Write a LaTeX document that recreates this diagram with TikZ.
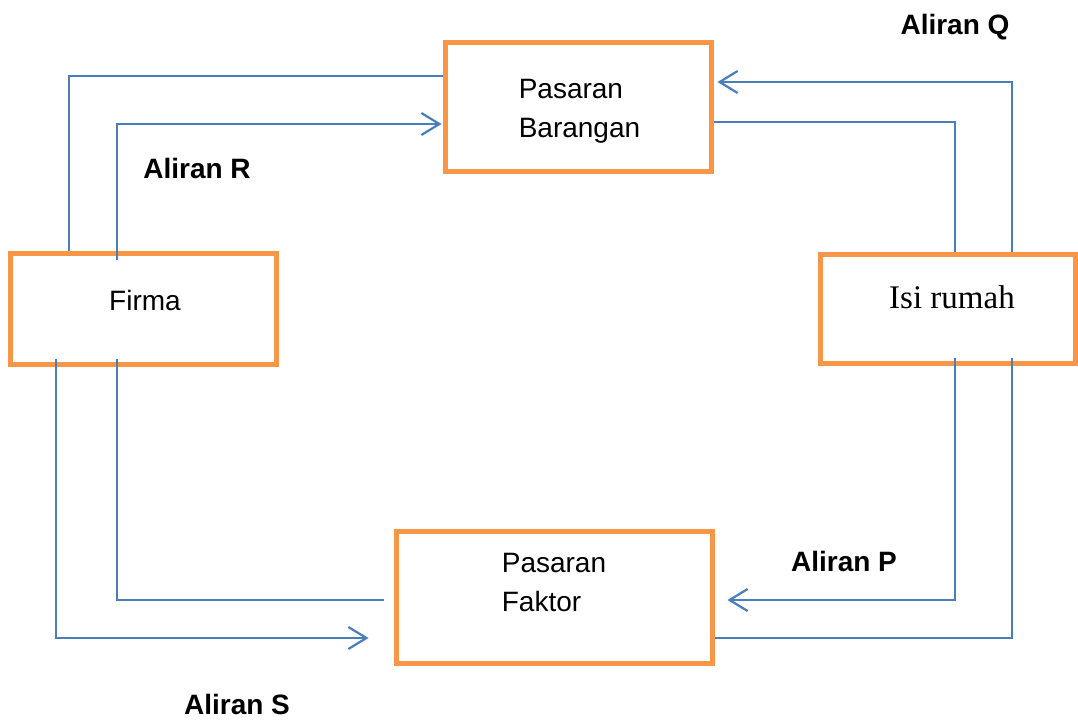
\documentclass[tikz,border=0pt]{standalone}
\usepackage{fontspec}
\setmainfont{Liberation Sans}
\newfontfamily\serifx{Liberation Serif}
\usetikzlibrary{arrows.meta}
\definecolor{boxorange}{HTML}{F79646}
\definecolor{flowblue}{HTML}{4A7EBB}
\begin{document}
\begin{tikzpicture}[x=1pt,y=-1pt,
  box/.style={draw=boxorange, line width=5pt, inner sep=0pt, fill=none},
  flow/.style={draw=flowblue, line width=2.2pt},
  arr/.style={flow, -{Straight Barb[length=18pt,width=22pt,line width=2.2pt]}},
  txt/.style={font=\fontsize{28}{39}\selectfont, align=left, inner sep=0pt},
  lab/.style={font=\fontsize{28}{32}\selectfont\bfseries, inner sep=0pt}]
\useasboundingbox (0,0) rectangle (1078,722);
\fill[white] (0,0) rectangle (1078,722);
% boxes
\node[box, minimum width=266pt, minimum height=129pt] (barang) at (578,107.5) {};
\node[box, minimum width=266pt, minimum height=111pt] (firma) at (143,308.5) {};
\node[box, minimum width=255pt, minimum height=109pt] (isi) at (947.5,308.5) {};
\node[box, minimum width=316pt, minimum height=132pt] (faktor) at (554,597) {};
% texts
\node[txt] (tbarang) at (579.5,111) {Pasaran\\Barangan};
\node[txt] (tfirma) at (145,300) {Firma};
\node[txt, font=\fontsize{33}{38}\selectfont\serifx] (tisi) at (952,297) {Isi rumah};
\node[txt] (tfaktor) at (554,582) {Pasaran\\Faktor};
% labels
\node[lab] (lq) at (955,27) {Aliran Q};
\node[lab] (lr) at (197,168) {Aliran R};
\node[lab] (lp) at (844,561) {Aliran P};
\node[lab] (ls) at (237,704) {Aliran S};
% flows top-left
\draw[flow] (firma.north -| 69,0) -- (69,76) -- (barang.west |- 0,76);
\draw[arr, shorten >=1pt] ([yshift=-9pt]firma.north -| 117,0) -- (117,124) -- (barang.west |- 0,124);
% flows top-right
\draw[arr, shorten >=4pt] (isi.north -| 1012,0) -- (1012,82) -- (barang.east |- 0,82);
\draw[flow] (barang.east |- 0,122) -- (955,122) -- (isi.north -| 955,0);
% flows bottom-left
\draw[arr, shorten >=25pt] ([yshift=8pt]firma.south -| 56,0) -- (56,638) -- (faktor.west |- 0,638);
\draw[flow, shorten >=10pt] ([yshift=8pt]firma.south -| 117,0) -- (117,600) -- (faktor.west |- 0,600);
% flows bottom-right
\draw[arr, shorten >=13pt] ([yshift=8pt]isi.south -| 955,0) -- (955,600) -- (faktor.east |- 0,600);
\draw[flow] ([yshift=8pt]isi.south -| 1012,0) -- (1012,638) -- (faktor.east |- 0,638);
\end{tikzpicture}
\end{document}
